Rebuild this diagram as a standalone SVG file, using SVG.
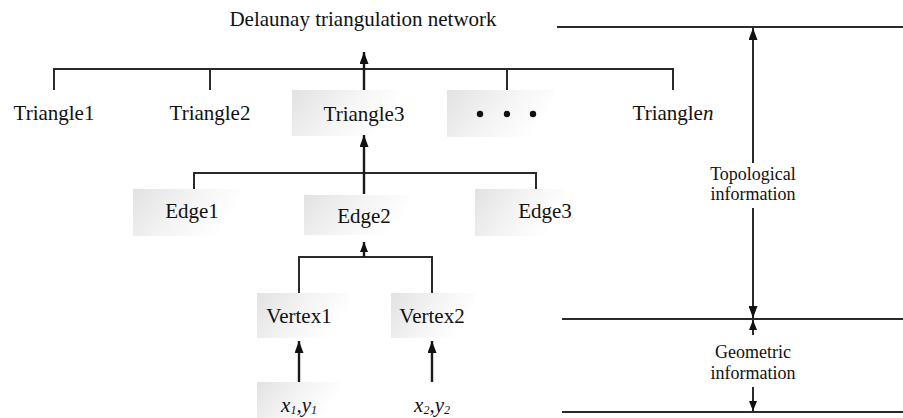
<svg xmlns="http://www.w3.org/2000/svg" width="903" height="418" viewBox="0 0 903 418">
<style>
text{font-family:"Liberation Serif","Times New Roman",serif;fill:#111;text-anchor:middle}
.n{font-size:21px}
.s{font-size:18px}
.ln{stroke:#2a2a2a;stroke-width:2;fill:none}
.ar{stroke:#1a1a1a;stroke-width:2.4;fill:none}
.bx{fill:url(#g);stroke:none}
.sub{font-size:12px}
</style>
<defs>
<linearGradient id="g" x1="0" y1="0" x2="1" y2="0.35">
<stop offset="0" stop-color="#e2e2e2"/>
<stop offset="0.55" stop-color="#f4f4f4"/>
<stop offset="1" stop-color="#ffffff"/>
</linearGradient>
<marker id="ah" viewBox="0 0 12 9" refX="12" refY="4.5" markerWidth="12" markerHeight="9" markerUnits="userSpaceOnUse" orient="auto">
<path d="M0,0 L12,4.5 L0,9 z" fill="#111"/>
</marker>
<marker id="as" viewBox="0 0 10 8" refX="10" refY="4" markerWidth="10" markerHeight="8" markerUnits="userSpaceOnUse" orient="auto">
<path d="M0,0 L10,4 L0,8 z" fill="#111"/>
</marker>
</defs>

<text class="n" x="363" y="26">Delaunay triangulation network</text>

<g id="triangle1"><text class="n" x="54" y="120">Triangle1</text></g>
<g id="triangle2"><text class="n" x="210" y="120">Triangle2</text></g>
<g id="triangle3"><rect class="bx" x="292" y="90" width="105" height="46"/><text class="n" x="364" y="121">Triangle3</text></g>
<g id="ellipsis"><rect class="bx" x="447" y="90" width="108" height="47"/>
<circle cx="480" cy="114" r="3.2" fill="#111"/><circle cx="507" cy="114" r="3.2" fill="#111"/><circle cx="533" cy="114" r="3.2" fill="#111"/></g>
<g id="trianglen"><text class="n" x="673" y="120">Triangle<tspan font-style="italic">n</tspan></text></g>

<g id="edge1"><rect class="bx" x="133" y="189" width="107" height="47"/><text class="n" x="192" y="218">Edge1</text></g>
<g id="edge2"><rect class="bx" x="304" y="195" width="106" height="40"/><text class="n" x="364" y="223">Edge2</text></g>
<g id="edge3"><rect class="bx" x="475" y="189" width="90" height="47"/><text class="n" x="545" y="218">Edge3</text></g>

<g id="vertex1"><rect class="bx" x="257" y="293" width="93" height="45"/><text class="n" x="299" y="323">Vertex1</text></g>
<g id="vertex2"><rect class="bx" x="391" y="293" width="84" height="45"/><text class="n" x="432" y="323">Vertex2</text></g>

<g id="xy1"><rect class="bx" x="257" y="382" width="83" height="36"/>
<text class="n" x="299" y="412" font-style="italic">x<tspan class="sub" dy="2">1</tspan><tspan dy="-2">,y</tspan><tspan class="sub" dy="2">1</tspan></text></g>
<g id="xy2"><text class="n" x="432" y="412" font-style="italic">x<tspan class="sub" dy="2">2</tspan><tspan dy="-2">,y</tspan><tspan class="sub" dy="2">2</tspan></text></g>

<g id="scale-labels">
<text class="s" x="753" y="180">Topological</text>
<text class="s" x="753" y="200">information</text>
<text class="s" x="753" y="358">Geometric</text>
<text class="s" x="753" y="379">information</text>
</g>

<g id="connectors">
<path class="ln" d="M54,90 V69 H673 V90 M210,69 V90 M507,69 V90"/>
<line class="ar" x1="364" y1="90" x2="364" y2="52" marker-end="url(#ah)"/>
<path class="ln" d="M194,189 V173 H536 V189"/>
<line class="ar" x1="364" y1="194" x2="364" y2="135" marker-end="url(#ah)"/>
<path class="ln" d="M299,293 V257 H432 V293"/>
<line class="ar" x1="364" y1="257" x2="364" y2="242" marker-end="url(#as)"/>
<line class="ar" x1="299" y1="382" x2="299" y2="341" marker-end="url(#ah)"/>
<line class="ar" x1="432" y1="382" x2="432" y2="341" marker-end="url(#ah)"/>

<line class="ln" x1="557" y1="27" x2="903" y2="27"/>
<line class="ln" x1="562" y1="319" x2="903" y2="319"/>
<line class="ln" x1="562" y1="412" x2="903" y2="412"/>
<line class="ln" x1="753" y1="163" x2="753" y2="28" marker-end="url(#ah)"/>
<line class="ln" x1="753" y1="208" x2="753" y2="318" marker-end="url(#ah)"/>
<line class="ln" x1="753" y1="335" x2="753" y2="320" marker-end="url(#as)"/>
<line class="ln" x1="753" y1="387" x2="753" y2="411" marker-end="url(#as)"/>
</g>
</svg>
